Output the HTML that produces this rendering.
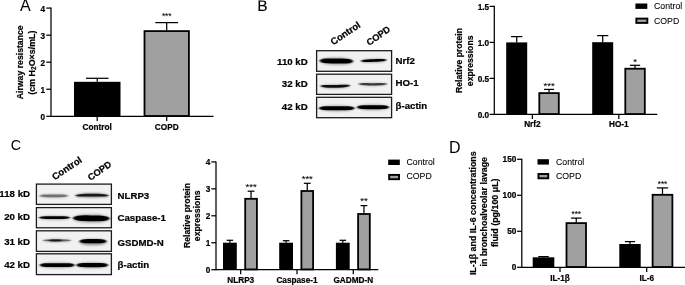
<!DOCTYPE html>
<html lang="en"><head><meta charset="utf-8"><title>Figure</title>
<style>html,body{margin:0;padding:0;background:#fff;}svg{display:block;}text{font-family:'Liberation Sans', sans-serif;fill:#000;}</style>
</head><body>
<svg width="685" height="285" viewBox="0 0 685 285">
<defs><filter id="bl" x="-20%" y="-100%" width="140%" height="300%"><feGaussianBlur stdDeviation="1.1 0.5"/></filter><filter id="bh" x="-20%" y="-150%" width="140%" height="400%"><feGaussianBlur stdDeviation="1.3 0.9"/></filter></defs>
<rect width="685" height="285" fill="#fff"/>
<text x="20.1" y="10.7" font-size="16" font-weight="normal" text-anchor="start">A</text>
<text font-size="15.4" text-anchor="start" transform="translate(257.2 11.1) rotate(0.6)" stroke="#000" stroke-width="0.1">B</text>
<text x="10.7" y="149.5" font-size="14.3" font-weight="normal" text-anchor="start">C</text>
<text x="448.9" y="152.8" font-size="16" font-weight="normal" text-anchor="start">D</text>
<line x1="51.0" y1="7.475" x2="51.0" y2="116.925" stroke="#000" stroke-width="1.25"/>
<line x1="46.3" y1="116.3" x2="51.0" y2="116.3" stroke="#000" stroke-width="1.25"/>
<text font-size="8.5" font-weight="bold" text-anchor="end" transform="translate(45.0 120.30) scale(0.97 0.985)" stroke="#000" stroke-width="0.22">0</text>
<line x1="46.3" y1="89.25" x2="51.0" y2="89.25" stroke="#000" stroke-width="1.25"/>
<text font-size="8.5" font-weight="bold" text-anchor="end" transform="translate(45.0 93.25) scale(0.97 0.985)" stroke="#000" stroke-width="0.22">1</text>
<line x1="46.3" y1="62.199999999999996" x2="51.0" y2="62.199999999999996" stroke="#000" stroke-width="1.25"/>
<text font-size="8.5" font-weight="bold" text-anchor="end" transform="translate(45.0 66.20) scale(0.97 0.985)" stroke="#000" stroke-width="0.22">2</text>
<line x1="46.3" y1="35.14999999999999" x2="51.0" y2="35.14999999999999" stroke="#000" stroke-width="1.25"/>
<text font-size="8.5" font-weight="bold" text-anchor="end" transform="translate(45.0 39.15) scale(0.97 0.985)" stroke="#000" stroke-width="0.22">3</text>
<line x1="46.3" y1="8.099999999999994" x2="51.0" y2="8.099999999999994" stroke="#000" stroke-width="1.25"/>
<text font-size="8.5" font-weight="bold" text-anchor="end" transform="translate(45.0 12.10) scale(0.97 0.985)" stroke="#000" stroke-width="0.22">4</text>
<line x1="97.25" y1="78.3" x2="97.25" y2="81.8" stroke="#000" stroke-width="1.25"/>
<line x1="86.0" y1="78.3" x2="108.5" y2="78.3" stroke="#000" stroke-width="1.25"/>
<rect x="74" y="81.8" width="46.5" height="34.5" fill="#000"/>
<line x1="166.7" y1="22.6" x2="166.7" y2="30.3" stroke="#000" stroke-width="1.25"/>
<line x1="155.29999999999998" y1="22.6" x2="178.1" y2="22.6" stroke="#000" stroke-width="1.25"/>
<rect x="144.5" y="31.1" width="44.4" height="84.90" fill="#a0a0a0" stroke="#000" stroke-width="1.8"/>
<text font-size="8.5" font-weight="normal" text-anchor="middle" transform="translate(166.7 19.40) scale(0.97 0.985)" stroke="#000" stroke-width="0.08">***</text>
<line x1="51.0" y1="116.3" x2="213.5" y2="116.3" stroke="#000" stroke-width="1.25"/>
<line x1="97.2" y1="116.3" x2="97.2" y2="120.89999999999999" stroke="#000" stroke-width="1.25"/>
<text font-size="8.5" font-weight="bold" text-anchor="middle" transform="translate(97.2 130.20) scale(0.97 0.985)" stroke="#000" stroke-width="0.22">Control</text>
<line x1="166.7" y1="116.3" x2="166.7" y2="120.89999999999999" stroke="#000" stroke-width="1.25"/>
<text font-size="8.5" font-weight="bold" text-anchor="middle" transform="translate(166.7 130.20) scale(0.97 0.985)" stroke="#000" stroke-width="0.22">COPD</text>
<text x="22.81" y="62.3" font-size="8.7" font-weight="bold" text-anchor="middle" stroke="#000" stroke-width="0.2" transform="rotate(-90 22.81 62.3)">Airway resistance</text>
<text x="34.870000000000005" y="62.6" font-size="8.9" font-weight="bold" text-anchor="middle" stroke="#000" stroke-width="0.2" transform="rotate(-90 34.870000000000005 62.6)">(cm H<tspan font-size="6.5" dy="1.6">2</tspan><tspan dy="-1.6">O×s/mL)</tspan></text>
<text x="333.3" y="45.4" font-size="9.5" font-weight="bold" text-anchor="start" transform="rotate(-34 333.3 45.4)" stroke="#000" stroke-width="0.22">Control</text>
<text x="369.3" y="46" font-size="9.2" font-weight="bold" text-anchor="start" transform="rotate(-35 369.3 46)" stroke="#000" stroke-width="0.22">COPD</text>
<clipPath id="c316_50"><rect x="316.6" y="50.7" width="75.0" height="20.599999999999994"/></clipPath>
<rect x="316.6" y="50.7" width="75.0" height="20.599999999999994" fill="#f1f1f1"/>
<g clip-path="url(#c316_50)">
<path d="M319.30,60.95 L320.01,60.01 L320.73,59.56 L321.44,59.22 L322.15,58.94 L322.86,58.70 L323.57,58.50 L324.29,58.32 L325.00,58.17 L325.71,58.04 L326.43,57.92 L327.14,57.82 L327.85,57.74 L328.56,57.67 L329.28,57.60 L329.99,57.55 L330.70,57.51 L331.41,57.48 L332.12,57.46 L332.84,57.44 L333.55,57.43 L334.26,57.43 L334.98,57.43 L335.69,57.44 L336.40,57.45 L337.11,57.46 L337.82,57.48 L338.54,57.49 L339.25,57.52 L339.96,57.55 L340.68,57.58 L341.39,57.63 L342.10,57.68 L342.81,57.74 L343.52,57.81 L344.24,57.89 L344.95,57.99 L345.66,58.09 L346.38,58.22 L347.09,58.35 L347.80,58.51 L348.51,58.68 L349.23,58.88 L349.94,59.10 L350.65,59.36 L351.36,59.66 L352.07,60.02 L352.79,60.49 L353.50,61.45 L353.50,61.45 L352.79,62.39 L352.07,62.84 L351.36,63.18 L350.65,63.46 L349.94,63.70 L349.23,63.90 L348.51,64.08 L347.80,64.23 L347.09,64.36 L346.38,64.48 L345.66,64.58 L344.95,64.66 L344.24,64.73 L343.52,64.80 L342.81,64.85 L342.10,64.89 L341.39,64.92 L340.68,64.94 L339.96,64.96 L339.25,64.97 L338.54,64.97 L337.82,64.97 L337.11,64.96 L336.40,64.95 L335.69,64.94 L334.98,64.92 L334.26,64.91 L333.55,64.88 L332.84,64.85 L332.12,64.82 L331.41,64.77 L330.70,64.72 L329.99,64.66 L329.28,64.59 L328.56,64.51 L327.85,64.41 L327.14,64.31 L326.43,64.18 L325.71,64.05 L325.00,63.89 L324.29,63.72 L323.57,63.52 L322.86,63.30 L322.15,63.04 L321.44,62.74 L320.73,62.38 L320.01,61.91 L319.30,60.95Z" fill="#000" opacity="0.3" filter="url(#bh)"/>
<path d="M319.80,60.75 L320.49,59.83 L321.18,59.43 L321.88,59.16 L322.57,58.96 L323.26,58.80 L323.95,58.69 L324.64,58.60 L325.33,58.54 L326.03,58.49 L326.72,58.46 L327.41,58.44 L328.10,58.42 L328.79,58.42 L329.48,58.41 L330.18,58.42 L330.87,58.42 L331.56,58.43 L332.25,58.44 L332.94,58.45 L333.63,58.46 L334.32,58.47 L335.02,58.48 L335.71,58.49 L336.40,58.50 L337.09,58.51 L337.78,58.52 L338.48,58.53 L339.17,58.54 L339.86,58.55 L340.55,58.56 L341.24,58.58 L341.93,58.59 L342.62,58.60 L343.32,58.62 L344.01,58.65 L344.70,58.67 L345.39,58.71 L346.08,58.75 L346.77,58.80 L347.47,58.87 L348.16,58.95 L348.85,59.06 L349.54,59.20 L350.23,59.37 L350.93,59.60 L351.62,59.89 L352.31,60.31 L353.00,61.25 L353.00,61.25 L352.31,62.17 L351.62,62.57 L350.93,62.84 L350.23,63.04 L349.54,63.20 L348.85,63.31 L348.16,63.40 L347.47,63.46 L346.77,63.51 L346.08,63.54 L345.39,63.56 L344.70,63.58 L344.01,63.58 L343.32,63.59 L342.62,63.58 L341.93,63.58 L341.24,63.57 L340.55,63.56 L339.86,63.55 L339.17,63.54 L338.48,63.53 L337.78,63.52 L337.09,63.51 L336.40,63.50 L335.71,63.49 L335.02,63.48 L334.32,63.47 L333.63,63.46 L332.94,63.45 L332.25,63.44 L331.56,63.42 L330.87,63.41 L330.18,63.40 L329.48,63.38 L328.79,63.35 L328.10,63.33 L327.41,63.29 L326.72,63.25 L326.03,63.20 L325.33,63.13 L324.64,63.05 L323.95,62.94 L323.26,62.80 L322.57,62.63 L321.88,62.40 L321.18,62.11 L320.49,61.69 L319.80,60.75Z" fill="#000" opacity="1" filter="url(#bl)"/>
<path d="M360.50,61.20 L361.05,60.67 L361.60,60.40 L362.16,60.19 L362.71,60.01 L363.26,59.85 L363.81,59.72 L364.36,59.60 L364.92,59.49 L365.47,59.39 L366.02,59.30 L366.57,59.22 L367.12,59.15 L367.68,59.08 L368.23,59.02 L368.78,58.97 L369.33,58.92 L369.89,58.88 L370.44,58.84 L370.99,58.80 L371.54,58.77 L372.09,58.74 L372.65,58.72 L373.20,58.70 L373.75,58.68 L374.30,58.65 L374.85,58.64 L375.41,58.62 L375.96,58.61 L376.51,58.59 L377.06,58.59 L377.61,58.59 L378.17,58.59 L378.72,58.59 L379.27,58.61 L379.82,58.62 L380.38,58.65 L380.93,58.68 L381.48,58.72 L382.03,58.77 L382.58,58.82 L383.14,58.89 L383.69,58.97 L384.24,59.06 L384.79,59.18 L385.34,59.31 L385.90,59.48 L386.45,59.71 L387.00,60.20 L387.00,60.20 L386.45,60.73 L385.90,61.00 L385.34,61.21 L384.79,61.39 L384.24,61.55 L383.69,61.68 L383.14,61.80 L382.58,61.91 L382.03,62.01 L381.48,62.10 L380.93,62.18 L380.38,62.25 L379.82,62.32 L379.27,62.38 L378.72,62.43 L378.17,62.48 L377.61,62.52 L377.06,62.56 L376.51,62.60 L375.96,62.63 L375.41,62.66 L374.85,62.68 L374.30,62.70 L373.75,62.73 L373.20,62.75 L372.65,62.76 L372.09,62.78 L371.54,62.79 L370.99,62.81 L370.44,62.81 L369.89,62.81 L369.33,62.81 L368.78,62.81 L368.23,62.79 L367.68,62.78 L367.12,62.75 L366.57,62.72 L366.02,62.68 L365.47,62.63 L364.92,62.58 L364.36,62.51 L363.81,62.43 L363.26,62.34 L362.71,62.22 L362.16,62.09 L361.60,61.92 L361.05,61.69 L360.50,61.20Z" fill="#000" opacity="0.3" filter="url(#bh)"/>
<path d="M361.00,61.00 L361.53,60.54 L362.06,60.31 L362.59,60.14 L363.12,60.01 L363.66,59.90 L364.19,59.80 L364.72,59.72 L365.25,59.65 L365.78,59.59 L366.31,59.54 L366.84,59.49 L367.38,59.45 L367.91,59.42 L368.44,59.38 L368.97,59.35 L369.50,59.33 L370.03,59.30 L370.56,59.28 L371.09,59.26 L371.62,59.23 L372.16,59.21 L372.69,59.19 L373.22,59.17 L373.75,59.15 L374.28,59.13 L374.81,59.11 L375.34,59.09 L375.88,59.07 L376.41,59.05 L376.94,59.03 L377.47,59.01 L378.00,58.99 L378.53,58.98 L379.06,58.97 L379.59,58.96 L380.12,58.95 L380.66,58.95 L381.19,58.95 L381.72,58.97 L382.25,58.98 L382.78,59.01 L383.31,59.05 L383.84,59.10 L384.38,59.17 L384.91,59.27 L385.44,59.39 L385.97,59.58 L386.50,60.00 L386.50,60.00 L385.97,60.46 L385.44,60.69 L384.91,60.86 L384.38,60.99 L383.84,61.10 L383.31,61.20 L382.78,61.28 L382.25,61.35 L381.72,61.41 L381.19,61.46 L380.66,61.51 L380.12,61.55 L379.59,61.58 L379.06,61.62 L378.53,61.65 L378.00,61.67 L377.47,61.70 L376.94,61.72 L376.41,61.74 L375.88,61.77 L375.34,61.79 L374.81,61.81 L374.28,61.83 L373.75,61.85 L373.22,61.87 L372.69,61.89 L372.16,61.91 L371.62,61.93 L371.09,61.95 L370.56,61.97 L370.03,61.99 L369.50,62.01 L368.97,62.02 L368.44,62.03 L367.91,62.04 L367.38,62.05 L366.84,62.05 L366.31,62.05 L365.78,62.03 L365.25,62.02 L364.72,61.99 L364.19,61.95 L363.66,61.90 L363.12,61.83 L362.59,61.73 L362.06,61.61 L361.53,61.42 L361.00,61.00Z" fill="#000" opacity="1" filter="url(#bl)"/>
</g>
<rect x="316.6" y="50.7" width="75.0" height="20.599999999999994" fill="none" stroke="#1c1c1c" stroke-width="1.3"/>
<clipPath id="c316_74"><rect x="316.6" y="74.2" width="75.0" height="20.200000000000003"/></clipPath>
<rect x="316.6" y="74.2" width="75.0" height="20.200000000000003" fill="#f1f1f1"/>
<g clip-path="url(#c316_74)">
<path d="M320.00,86.15 L320.64,85.67 L321.27,85.45 L321.91,85.30 L322.54,85.17 L323.18,85.07 L323.81,84.99 L324.45,84.91 L325.08,84.85 L325.72,84.80 L326.35,84.75 L326.99,84.72 L327.62,84.68 L328.26,84.65 L328.90,84.63 L329.53,84.61 L330.17,84.59 L330.80,84.57 L331.44,84.56 L332.07,84.55 L332.71,84.54 L333.34,84.53 L333.98,84.52 L334.61,84.51 L335.25,84.50 L335.89,84.49 L336.52,84.48 L337.16,84.46 L337.79,84.45 L338.43,84.44 L339.06,84.43 L339.70,84.43 L340.33,84.42 L340.97,84.42 L341.60,84.42 L342.24,84.42 L342.88,84.43 L343.51,84.44 L344.15,84.46 L344.78,84.49 L345.42,84.52 L346.05,84.56 L346.69,84.61 L347.32,84.68 L347.96,84.76 L348.59,84.86 L349.23,84.99 L349.86,85.19 L350.50,85.65 L350.50,85.65 L349.86,86.25 L349.23,86.57 L348.59,86.83 L347.96,87.05 L347.32,87.25 L346.69,87.43 L346.05,87.58 L345.42,87.72 L344.78,87.85 L344.15,87.97 L343.51,88.07 L342.88,88.17 L342.24,88.25 L341.60,88.33 L340.97,88.40 L340.33,88.46 L339.70,88.51 L339.06,88.55 L338.43,88.59 L337.79,88.62 L337.16,88.65 L336.52,88.67 L335.89,88.69 L335.25,88.70 L334.61,88.71 L333.98,88.71 L333.34,88.71 L332.71,88.71 L332.07,88.70 L331.44,88.68 L330.80,88.65 L330.17,88.62 L329.53,88.58 L328.90,88.54 L328.26,88.48 L327.62,88.42 L326.99,88.34 L326.35,88.26 L325.72,88.17 L325.08,88.06 L324.45,87.94 L323.81,87.80 L323.18,87.65 L322.54,87.47 L321.91,87.27 L321.27,87.03 L320.64,86.73 L320.00,86.15Z" fill="#0c0c0c" opacity="0.3" filter="url(#bh)"/>
<path d="M320.50,85.95 L321.11,85.54 L321.73,85.37 L322.34,85.26 L322.96,85.18 L323.57,85.12 L324.19,85.08 L324.80,85.05 L325.42,85.03 L326.03,85.02 L326.65,85.01 L327.26,85.00 L327.88,85.00 L328.49,85.00 L329.10,85.01 L329.72,85.01 L330.33,85.02 L330.95,85.02 L331.56,85.02 L332.18,85.02 L332.79,85.02 L333.41,85.02 L334.02,85.02 L334.64,85.01 L335.25,85.00 L335.86,84.99 L336.48,84.97 L337.09,84.96 L337.71,84.94 L338.32,84.92 L338.94,84.90 L339.55,84.87 L340.17,84.85 L340.78,84.82 L341.40,84.80 L342.01,84.78 L342.62,84.75 L343.24,84.73 L343.85,84.72 L344.47,84.70 L345.08,84.70 L345.70,84.70 L346.31,84.70 L346.93,84.73 L347.54,84.76 L348.16,84.82 L348.77,84.91 L349.39,85.06 L350.00,85.45 L350.00,85.45 L349.39,85.98 L348.77,86.25 L348.16,86.47 L347.54,86.65 L346.93,86.80 L346.31,86.93 L345.70,87.05 L345.08,87.15 L344.47,87.24 L343.85,87.32 L343.24,87.39 L342.62,87.45 L342.01,87.50 L341.40,87.55 L340.78,87.59 L340.17,87.63 L339.55,87.66 L338.94,87.69 L338.32,87.72 L337.71,87.74 L337.09,87.76 L336.48,87.77 L335.86,87.79 L335.25,87.80 L334.64,87.81 L334.02,87.82 L333.41,87.82 L332.79,87.82 L332.18,87.82 L331.56,87.82 L330.95,87.81 L330.33,87.80 L329.72,87.78 L329.10,87.76 L328.49,87.73 L327.88,87.70 L327.26,87.66 L326.65,87.61 L326.03,87.55 L325.42,87.48 L324.80,87.40 L324.19,87.31 L323.57,87.20 L322.96,87.07 L322.34,86.91 L321.73,86.71 L321.11,86.46 L320.50,85.95Z" fill="#0c0c0c" opacity="1" filter="url(#bl)"/>
<path d="M358.00,84.10 L358.61,83.70 L359.23,83.52 L359.84,83.38 L360.46,83.28 L361.07,83.19 L361.69,83.12 L362.30,83.06 L362.92,83.01 L363.53,82.96 L364.15,82.92 L364.76,82.89 L365.38,82.87 L365.99,82.84 L366.60,82.82 L367.22,82.81 L367.83,82.80 L368.45,82.79 L369.06,82.78 L369.68,82.78 L370.29,82.78 L370.91,82.77 L371.52,82.77 L372.14,82.77 L372.75,82.78 L373.36,82.77 L373.98,82.77 L374.59,82.77 L375.21,82.78 L375.82,82.78 L376.44,82.78 L377.05,82.79 L377.67,82.80 L378.28,82.81 L378.90,82.82 L379.51,82.84 L380.12,82.87 L380.74,82.89 L381.35,82.92 L381.97,82.96 L382.58,83.01 L383.20,83.06 L383.81,83.12 L384.43,83.19 L385.04,83.28 L385.66,83.38 L386.27,83.52 L386.89,83.70 L387.50,84.10 L387.50,84.10 L386.89,84.57 L386.27,84.81 L385.66,85.00 L385.04,85.17 L384.43,85.31 L383.81,85.43 L383.20,85.54 L382.58,85.64 L381.97,85.73 L381.35,85.80 L380.74,85.87 L380.12,85.93 L379.51,85.99 L378.90,86.04 L378.28,86.08 L377.67,86.11 L377.05,86.14 L376.44,86.17 L375.82,86.19 L375.21,86.20 L374.59,86.21 L373.98,86.22 L373.36,86.22 L372.75,86.23 L372.14,86.22 L371.52,86.22 L370.91,86.21 L370.29,86.20 L369.68,86.19 L369.06,86.17 L368.45,86.14 L367.83,86.11 L367.22,86.08 L366.60,86.04 L365.99,85.99 L365.38,85.93 L364.76,85.87 L364.15,85.80 L363.53,85.73 L362.92,85.64 L362.30,85.54 L361.69,85.43 L361.07,85.31 L360.46,85.17 L359.84,85.00 L359.23,84.81 L358.61,84.57 L358.00,84.10Z" fill="#151515" opacity="0.24" filter="url(#bh)"/>
<path d="M358.50,83.90 L359.09,83.55 L359.69,83.41 L360.28,83.32 L360.88,83.25 L361.47,83.20 L362.06,83.16 L362.66,83.13 L363.25,83.11 L363.84,83.10 L364.44,83.10 L365.03,83.09 L365.62,83.09 L366.22,83.10 L366.81,83.10 L367.41,83.11 L368.00,83.11 L368.59,83.12 L369.19,83.13 L369.78,83.13 L370.38,83.14 L370.97,83.14 L371.56,83.15 L372.16,83.15 L372.75,83.15 L373.34,83.15 L373.94,83.15 L374.53,83.14 L375.12,83.14 L375.72,83.13 L376.31,83.13 L376.91,83.12 L377.50,83.11 L378.09,83.11 L378.69,83.10 L379.28,83.10 L379.88,83.09 L380.47,83.09 L381.06,83.10 L381.66,83.10 L382.25,83.11 L382.84,83.13 L383.44,83.16 L384.03,83.20 L384.62,83.25 L385.22,83.32 L385.81,83.41 L386.41,83.55 L387.00,83.90 L387.00,83.90 L386.41,84.31 L385.81,84.52 L385.22,84.67 L384.62,84.80 L384.03,84.90 L383.44,84.99 L382.84,85.07 L382.25,85.13 L381.66,85.18 L381.06,85.23 L380.47,85.27 L379.88,85.31 L379.28,85.34 L378.69,85.36 L378.09,85.38 L377.50,85.40 L376.91,85.41 L376.31,85.42 L375.72,85.43 L375.12,85.44 L374.53,85.44 L373.94,85.45 L373.34,85.45 L372.75,85.45 L372.16,85.45 L371.56,85.45 L370.97,85.44 L370.38,85.44 L369.78,85.43 L369.19,85.42 L368.59,85.41 L368.00,85.40 L367.41,85.38 L366.81,85.36 L366.22,85.34 L365.62,85.31 L365.03,85.27 L364.44,85.23 L363.84,85.18 L363.25,85.13 L362.66,85.07 L362.06,84.99 L361.47,84.90 L360.88,84.80 L360.28,84.67 L359.69,84.52 L359.09,84.31 L358.50,83.90Z" fill="#151515" opacity="0.8" filter="url(#bl)"/>
</g>
<rect x="316.6" y="74.2" width="75.0" height="20.200000000000003" fill="none" stroke="#1c1c1c" stroke-width="1.3"/>
<clipPath id="c316_97"><rect x="316.6" y="97.3" width="75.0" height="20.400000000000006"/></clipPath>
<rect x="316.6" y="97.3" width="75.0" height="20.400000000000006" fill="#f1f1f1"/>
<g clip-path="url(#c316_97)">
<path d="M318.50,108.40 L319.26,107.64 L320.02,107.27 L320.78,106.99 L321.54,106.76 L322.30,106.56 L323.06,106.39 L323.82,106.24 L324.58,106.11 L325.34,106.00 L326.10,105.90 L326.86,105.81 L327.62,105.73 L328.39,105.66 L329.15,105.61 L329.91,105.56 L330.67,105.52 L331.43,105.48 L332.19,105.46 L332.95,105.44 L333.71,105.42 L334.47,105.41 L335.23,105.40 L335.99,105.40 L336.75,105.40 L337.51,105.40 L338.27,105.40 L339.03,105.41 L339.79,105.42 L340.55,105.44 L341.31,105.46 L342.07,105.48 L342.83,105.52 L343.59,105.56 L344.35,105.61 L345.11,105.66 L345.88,105.73 L346.64,105.81 L347.40,105.90 L348.16,106.00 L348.92,106.11 L349.68,106.24 L350.44,106.39 L351.20,106.56 L351.96,106.76 L352.72,106.99 L353.48,107.27 L354.24,107.64 L355.00,108.40 L355.00,108.40 L354.24,109.16 L353.48,109.53 L352.72,109.81 L351.96,110.04 L351.20,110.24 L350.44,110.41 L349.68,110.56 L348.92,110.69 L348.16,110.80 L347.40,110.90 L346.64,110.99 L345.88,111.07 L345.11,111.14 L344.35,111.19 L343.59,111.24 L342.83,111.28 L342.07,111.32 L341.31,111.34 L340.55,111.36 L339.79,111.38 L339.03,111.39 L338.27,111.40 L337.51,111.40 L336.75,111.40 L335.99,111.40 L335.23,111.40 L334.47,111.39 L333.71,111.38 L332.95,111.36 L332.19,111.34 L331.43,111.32 L330.67,111.28 L329.91,111.24 L329.15,111.19 L328.39,111.14 L327.62,111.07 L326.86,110.99 L326.10,110.90 L325.34,110.80 L324.58,110.69 L323.82,110.56 L323.06,110.41 L322.30,110.24 L321.54,110.04 L320.78,109.81 L320.02,109.53 L319.26,109.16 L318.50,108.40Z" fill="#000" opacity="0.3" filter="url(#bh)"/>
<path d="M319.00,108.20 L319.74,107.38 L320.48,107.03 L321.22,106.80 L321.96,106.63 L322.70,106.51 L323.44,106.42 L324.18,106.36 L324.92,106.31 L325.66,106.27 L326.40,106.25 L327.14,106.23 L327.88,106.22 L328.61,106.21 L329.35,106.21 L330.09,106.20 L330.83,106.20 L331.57,106.20 L332.31,106.20 L333.05,106.20 L333.79,106.20 L334.53,106.20 L335.27,106.20 L336.01,106.20 L336.75,106.20 L337.49,106.20 L338.23,106.20 L338.97,106.20 L339.71,106.20 L340.45,106.20 L341.19,106.20 L341.93,106.20 L342.67,106.20 L343.41,106.20 L344.15,106.21 L344.89,106.21 L345.62,106.22 L346.36,106.23 L347.10,106.25 L347.84,106.27 L348.58,106.31 L349.32,106.36 L350.06,106.42 L350.80,106.51 L351.54,106.63 L352.28,106.80 L353.02,107.03 L353.76,107.38 L354.50,108.20 L354.50,108.20 L353.76,109.02 L353.02,109.37 L352.28,109.60 L351.54,109.77 L350.80,109.89 L350.06,109.98 L349.32,110.04 L348.58,110.09 L347.84,110.13 L347.10,110.15 L346.36,110.17 L345.62,110.18 L344.89,110.19 L344.15,110.19 L343.41,110.20 L342.67,110.20 L341.93,110.20 L341.19,110.20 L340.45,110.20 L339.71,110.20 L338.97,110.20 L338.23,110.20 L337.49,110.20 L336.75,110.20 L336.01,110.20 L335.27,110.20 L334.53,110.20 L333.79,110.20 L333.05,110.20 L332.31,110.20 L331.57,110.20 L330.83,110.20 L330.09,110.20 L329.35,110.19 L328.61,110.19 L327.88,110.18 L327.14,110.17 L326.40,110.15 L325.66,110.13 L324.92,110.09 L324.18,110.04 L323.44,109.98 L322.70,109.89 L321.96,109.77 L321.22,109.60 L320.48,109.37 L319.74,109.02 L319.00,108.20Z" fill="#000" opacity="1" filter="url(#bl)"/>
<path d="M356.50,107.40 L357.19,106.66 L357.88,106.30 L358.56,106.03 L359.25,105.80 L359.94,105.61 L360.62,105.44 L361.31,105.30 L362.00,105.17 L362.69,105.06 L363.38,104.96 L364.06,104.87 L364.75,104.80 L365.44,104.73 L366.12,104.68 L366.81,104.63 L367.50,104.59 L368.19,104.56 L368.88,104.53 L369.56,104.51 L370.25,104.49 L370.94,104.48 L371.62,104.48 L372.31,104.48 L373.00,104.48 L373.69,104.48 L374.38,104.48 L375.06,104.48 L375.75,104.49 L376.44,104.51 L377.12,104.53 L377.81,104.56 L378.50,104.59 L379.19,104.63 L379.88,104.68 L380.56,104.73 L381.25,104.80 L381.94,104.87 L382.62,104.96 L383.31,105.06 L384.00,105.17 L384.69,105.30 L385.38,105.44 L386.06,105.61 L386.75,105.80 L387.44,106.03 L388.12,106.30 L388.81,106.66 L389.50,107.40 L389.50,107.40 L388.81,108.14 L388.12,108.50 L387.44,108.77 L386.75,109.00 L386.06,109.19 L385.38,109.36 L384.69,109.50 L384.00,109.63 L383.31,109.74 L382.62,109.84 L381.94,109.93 L381.25,110.00 L380.56,110.07 L379.88,110.12 L379.19,110.17 L378.50,110.21 L377.81,110.24 L377.12,110.27 L376.44,110.29 L375.75,110.31 L375.06,110.32 L374.38,110.32 L373.69,110.32 L373.00,110.33 L372.31,110.32 L371.62,110.32 L370.94,110.32 L370.25,110.31 L369.56,110.29 L368.88,110.27 L368.19,110.24 L367.50,110.21 L366.81,110.17 L366.12,110.12 L365.44,110.07 L364.75,110.00 L364.06,109.93 L363.38,109.84 L362.69,109.74 L362.00,109.63 L361.31,109.50 L360.62,109.36 L359.94,109.19 L359.25,109.00 L358.56,108.77 L357.88,108.50 L357.19,108.14 L356.50,107.40Z" fill="#000" opacity="0.3" filter="url(#bh)"/>
<path d="M357.00,107.20 L357.67,106.40 L358.33,106.06 L359.00,105.84 L359.67,105.67 L360.33,105.55 L361.00,105.47 L361.67,105.40 L362.33,105.35 L363.00,105.32 L363.67,105.30 L364.33,105.28 L365.00,105.27 L365.67,105.26 L366.33,105.26 L367.00,105.25 L367.67,105.25 L368.33,105.25 L369.00,105.25 L369.67,105.25 L370.33,105.25 L371.00,105.25 L371.67,105.25 L372.33,105.25 L373.00,105.25 L373.67,105.25 L374.33,105.25 L375.00,105.25 L375.67,105.25 L376.33,105.25 L377.00,105.25 L377.67,105.25 L378.33,105.25 L379.00,105.25 L379.67,105.26 L380.33,105.26 L381.00,105.27 L381.67,105.28 L382.33,105.30 L383.00,105.32 L383.67,105.35 L384.33,105.40 L385.00,105.47 L385.67,105.55 L386.33,105.67 L387.00,105.84 L387.67,106.06 L388.33,106.40 L389.00,107.20 L389.00,107.20 L388.33,108.00 L387.67,108.34 L387.00,108.56 L386.33,108.73 L385.67,108.85 L385.00,108.93 L384.33,109.00 L383.67,109.05 L383.00,109.08 L382.33,109.10 L381.67,109.12 L381.00,109.13 L380.33,109.14 L379.67,109.14 L379.00,109.15 L378.33,109.15 L377.67,109.15 L377.00,109.15 L376.33,109.15 L375.67,109.15 L375.00,109.15 L374.33,109.15 L373.67,109.15 L373.00,109.15 L372.33,109.15 L371.67,109.15 L371.00,109.15 L370.33,109.15 L369.67,109.15 L369.00,109.15 L368.33,109.15 L367.67,109.15 L367.00,109.15 L366.33,109.14 L365.67,109.14 L365.00,109.13 L364.33,109.12 L363.67,109.10 L363.00,109.08 L362.33,109.05 L361.67,109.00 L361.00,108.93 L360.33,108.85 L359.67,108.73 L359.00,108.56 L358.33,108.34 L357.67,108.00 L357.00,107.20Z" fill="#000" opacity="1" filter="url(#bl)"/>
</g>
<rect x="316.6" y="97.3" width="75.0" height="20.400000000000006" fill="none" stroke="#1c1c1c" stroke-width="1.3"/>
<text font-size="9.988" font-weight="bold" text-anchor="end" transform="translate(307.7 64.90) scale(0.97 0.985)" stroke="#000" stroke-width="0.22">110 kD</text>
<text font-size="9.988" font-weight="bold" text-anchor="end" transform="translate(307.7 86.90) scale(0.97 0.985)" stroke="#000" stroke-width="0.22">32 kD</text>
<text font-size="9.988" font-weight="bold" text-anchor="end" transform="translate(307.7 110.40) scale(0.97 0.985)" stroke="#000" stroke-width="0.22">42 kD</text>
<text font-size="9.988" font-weight="bold" text-anchor="start" transform="translate(395.5 63.60) scale(0.97 0.985)" stroke="#000" stroke-width="0.22">Nrf2</text>
<text font-size="9.988" font-weight="bold" text-anchor="start" transform="translate(395.5 85.50) scale(0.97 0.985)" stroke="#000" stroke-width="0.22">HO-1</text>
<text font-size="9.988" font-weight="bold" text-anchor="start" transform="translate(395.5 109.40) scale(0.97 0.985)" stroke="#000" stroke-width="0.22">β-actin</text>
<line x1="494.3" y1="5.775" x2="494.3" y2="115.025" stroke="#000" stroke-width="1.25"/>
<line x1="489.6" y1="114.4" x2="494.3" y2="114.4" stroke="#000" stroke-width="1.25"/>
<text font-size="8.5" font-weight="bold" text-anchor="end" transform="translate(489.1 117.90) scale(0.97 0.985)" stroke="#000" stroke-width="0.22">0.0</text>
<line x1="489.6" y1="78.4" x2="494.3" y2="78.4" stroke="#000" stroke-width="1.25"/>
<text font-size="8.5" font-weight="bold" text-anchor="end" transform="translate(489.1 81.90) scale(0.97 0.985)" stroke="#000" stroke-width="0.22">0.5</text>
<line x1="489.6" y1="42.400000000000006" x2="494.3" y2="42.400000000000006" stroke="#000" stroke-width="1.25"/>
<text font-size="8.5" font-weight="bold" text-anchor="end" transform="translate(489.1 45.90) scale(0.97 0.985)" stroke="#000" stroke-width="0.22">1.0</text>
<line x1="489.6" y1="6.400000000000006" x2="494.3" y2="6.400000000000006" stroke="#000" stroke-width="1.25"/>
<text font-size="8.5" font-weight="bold" text-anchor="end" transform="translate(489.1 9.90) scale(0.97 0.985)" stroke="#000" stroke-width="0.22">1.5</text>
<line x1="516.7" y1="36.6" x2="516.7" y2="42.4" stroke="#000" stroke-width="1.25"/>
<line x1="511.05000000000007" y1="36.6" x2="522.35" y2="36.6" stroke="#000" stroke-width="1.25"/>
<rect x="506.2" y="42.4" width="21.000000000000057" height="72.0" fill="#000"/>
<line x1="549.05" y1="89.4" x2="549.05" y2="92.3" stroke="#000" stroke-width="1.25"/>
<line x1="544.05" y1="89.4" x2="554.05" y2="89.4" stroke="#000" stroke-width="1.25"/>
<rect x="539.3" y="93.1" width="19.50000000000002" height="21.00" fill="#a0a0a0" stroke="#000" stroke-width="1.8"/>
<text font-size="9.881" font-weight="normal" text-anchor="middle" transform="translate(549.05 88.70) scale(0.97 0.985)" stroke="#000" stroke-width="0.08">***</text>
<line x1="602.7" y1="35.6" x2="602.7" y2="42.2" stroke="#000" stroke-width="1.25"/>
<line x1="597.1" y1="35.6" x2="608.3000000000001" y2="35.6" stroke="#000" stroke-width="1.25"/>
<rect x="592.2" y="42.2" width="21.0" height="72.2" fill="#000"/>
<line x1="635.05" y1="65.3" x2="635.05" y2="67.9" stroke="#000" stroke-width="1.25"/>
<line x1="629.9499999999999" y1="65.3" x2="640.15" y2="65.3" stroke="#000" stroke-width="1.25"/>
<rect x="625.3" y="68.7" width="19.50000000000002" height="45.40" fill="#a0a0a0" stroke="#000" stroke-width="1.8"/>
<text font-size="9.881" font-weight="normal" text-anchor="middle" transform="translate(635.05 65.20) scale(0.97 0.985)" stroke="#000" stroke-width="0.08">*</text>
<line x1="494.3" y1="114.4" x2="657.3" y2="114.4" stroke="#000" stroke-width="1.25"/>
<line x1="532.4" y1="114.4" x2="532.4" y2="119.0" stroke="#000" stroke-width="1.25"/>
<text font-size="8.5" font-weight="bold" text-anchor="middle" transform="translate(532.4 127.20) scale(0.97 0.985)" stroke="#000" stroke-width="0.22">Nrf2</text>
<line x1="618.8" y1="114.4" x2="618.8" y2="119.0" stroke="#000" stroke-width="1.25"/>
<text font-size="8.5" font-weight="bold" text-anchor="middle" transform="translate(618.8 127.20) scale(0.97 0.985)" stroke="#000" stroke-width="0.22">HO-1</text>
<text x="461.81" y="60.5" font-size="8.7" font-weight="bold" text-anchor="middle" stroke="#000" stroke-width="0.2" transform="rotate(-90 461.81 60.5)">Relative protein</text>
<text x="472.71000000000004" y="60.8" font-size="8.7" font-weight="bold" text-anchor="middle" stroke="#000" stroke-width="0.2" transform="rotate(-90 472.71000000000004 60.8)">expressions</text>
<rect x="635.4" y="3.5" width="11.9" height="5.4" fill="#000"/>
<text font-size="9.031" font-weight="normal" text-anchor="start" transform="translate(654 9.40) scale(0.97 0.985)" stroke="#000" stroke-width="0.08">Control</text>
<rect x="636.35" y="18.6" width="11.0" height="4.3" fill="#a0a0a0" stroke="#000" stroke-width="1.9"/>
<text font-size="9.031" font-weight="normal" text-anchor="start" transform="translate(654 23.70) scale(0.97 0.985)" stroke="#000" stroke-width="0.08">COPD</text>
<text x="54.7" y="180.4" font-size="9.5" font-weight="bold" text-anchor="start" transform="rotate(-34 54.7 180.4)" stroke="#000" stroke-width="0.22">Control</text>
<text x="90.5" y="181" font-size="9.2" font-weight="bold" text-anchor="start" transform="rotate(-35 90.5 181)" stroke="#000" stroke-width="0.22">COPD</text>
<clipPath id="c36_184"><rect x="36.4" y="184.1" width="75.0" height="20.30000000000001"/></clipPath>
<rect x="36.4" y="184.1" width="75.0" height="20.30000000000001" fill="#f1f1f1"/>
<g clip-path="url(#c36_184)">
<path d="M39.00,196.00 L39.61,195.47 L40.23,195.21 L40.84,195.01 L41.46,194.85 L42.07,194.71 L42.69,194.59 L43.30,194.49 L43.92,194.40 L44.53,194.32 L45.15,194.25 L45.76,194.19 L46.38,194.13 L46.99,194.08 L47.60,194.04 L48.22,194.01 L48.83,193.98 L49.45,193.96 L50.06,193.94 L50.68,193.93 L51.29,193.91 L51.91,193.91 L52.52,193.90 L53.14,193.90 L53.75,193.90 L54.36,193.90 L54.98,193.90 L55.59,193.91 L56.21,193.91 L56.82,193.93 L57.44,193.94 L58.05,193.96 L58.67,193.98 L59.28,194.01 L59.90,194.04 L60.51,194.08 L61.12,194.13 L61.74,194.19 L62.35,194.25 L62.97,194.32 L63.58,194.40 L64.20,194.49 L64.81,194.59 L65.43,194.71 L66.04,194.85 L66.66,195.01 L67.27,195.21 L67.89,195.47 L68.50,196.00 L68.50,196.00 L67.89,196.53 L67.27,196.79 L66.66,196.99 L66.04,197.15 L65.43,197.29 L64.81,197.41 L64.20,197.51 L63.58,197.60 L62.97,197.68 L62.35,197.75 L61.74,197.81 L61.12,197.87 L60.51,197.92 L59.90,197.96 L59.28,197.99 L58.67,198.02 L58.05,198.04 L57.44,198.06 L56.82,198.07 L56.21,198.09 L55.59,198.09 L54.98,198.10 L54.36,198.10 L53.75,198.10 L53.14,198.10 L52.52,198.10 L51.91,198.09 L51.29,198.09 L50.68,198.07 L50.06,198.06 L49.45,198.04 L48.83,198.02 L48.22,197.99 L47.60,197.96 L46.99,197.92 L46.38,197.87 L45.76,197.81 L45.15,197.75 L44.53,197.68 L43.92,197.60 L43.30,197.51 L42.69,197.41 L42.07,197.29 L41.46,197.15 L40.84,196.99 L40.23,196.79 L39.61,196.53 L39.00,196.00Z" fill="#333" opacity="0.275" filter="url(#bh)"/>
<path d="M39.50,195.80 L40.09,195.34 L40.69,195.13 L41.28,194.98 L41.88,194.86 L42.47,194.76 L43.06,194.69 L43.66,194.62 L44.25,194.57 L44.84,194.53 L45.44,194.50 L46.03,194.47 L46.62,194.45 L47.22,194.44 L47.81,194.43 L48.41,194.42 L49.00,194.41 L49.59,194.41 L50.19,194.40 L50.78,194.40 L51.38,194.40 L51.97,194.40 L52.56,194.40 L53.16,194.40 L53.75,194.40 L54.34,194.40 L54.94,194.40 L55.53,194.40 L56.12,194.40 L56.72,194.40 L57.31,194.40 L57.91,194.41 L58.50,194.41 L59.09,194.42 L59.69,194.43 L60.28,194.44 L60.88,194.45 L61.47,194.47 L62.06,194.50 L62.66,194.53 L63.25,194.57 L63.84,194.62 L64.44,194.69 L65.03,194.76 L65.62,194.86 L66.22,194.98 L66.81,195.13 L67.41,195.34 L68.00,195.80 L68.00,195.80 L67.41,196.26 L66.81,196.47 L66.22,196.62 L65.62,196.74 L65.03,196.84 L64.44,196.91 L63.84,196.98 L63.25,197.03 L62.66,197.07 L62.06,197.10 L61.47,197.13 L60.88,197.15 L60.28,197.16 L59.69,197.17 L59.09,197.18 L58.50,197.19 L57.91,197.19 L57.31,197.20 L56.72,197.20 L56.12,197.20 L55.53,197.20 L54.94,197.20 L54.34,197.20 L53.75,197.20 L53.16,197.20 L52.56,197.20 L51.97,197.20 L51.38,197.20 L50.78,197.20 L50.19,197.20 L49.59,197.19 L49.00,197.19 L48.41,197.18 L47.81,197.17 L47.22,197.16 L46.62,197.15 L46.03,197.13 L45.44,197.10 L44.84,197.07 L44.25,197.03 L43.66,196.98 L43.06,196.91 L42.47,196.84 L41.88,196.74 L41.28,196.62 L40.69,196.47 L40.09,196.26 L39.50,195.80Z" fill="#333" opacity="0.55" filter="url(#bl)"/>
<path d="M75.00,195.80 L75.71,195.23 L76.42,194.93 L77.12,194.70 L77.83,194.50 L78.54,194.33 L79.25,194.17 L79.96,194.04 L80.67,193.92 L81.38,193.81 L82.08,193.72 L82.79,193.63 L83.50,193.56 L84.21,193.49 L84.92,193.43 L85.62,193.38 L86.33,193.34 L87.04,193.30 L87.75,193.27 L88.46,193.25 L89.17,193.23 L89.88,193.21 L90.58,193.21 L91.29,193.20 L92.00,193.20 L92.71,193.20 L93.42,193.21 L94.12,193.21 L94.83,193.23 L95.54,193.25 L96.25,193.27 L96.96,193.30 L97.67,193.34 L98.38,193.38 L99.08,193.43 L99.79,193.49 L100.50,193.56 L101.21,193.63 L101.92,193.72 L102.62,193.81 L103.33,193.92 L104.04,194.04 L104.75,194.17 L105.46,194.33 L106.17,194.50 L106.88,194.70 L107.58,194.93 L108.29,195.23 L109.00,195.80 L109.00,195.80 L108.29,196.29 L107.58,196.51 L106.88,196.67 L106.17,196.80 L105.46,196.90 L104.75,196.99 L104.04,197.06 L103.33,197.12 L102.62,197.18 L101.92,197.22 L101.21,197.26 L100.50,197.29 L99.79,197.32 L99.08,197.34 L98.38,197.36 L97.67,197.37 L96.96,197.38 L96.25,197.39 L95.54,197.40 L94.83,197.40 L94.12,197.40 L93.42,197.40 L92.71,197.40 L92.00,197.40 L91.29,197.40 L90.58,197.40 L89.88,197.40 L89.17,197.40 L88.46,197.40 L87.75,197.39 L87.04,197.38 L86.33,197.37 L85.62,197.36 L84.92,197.34 L84.21,197.32 L83.50,197.29 L82.79,197.26 L82.08,197.22 L81.38,197.18 L80.67,197.12 L79.96,197.06 L79.25,196.99 L78.54,196.90 L77.83,196.80 L77.12,196.67 L76.42,196.51 L75.71,196.29 L75.00,195.80Z" fill="#0a0a0a" opacity="0.45" filter="url(#bh)"/>
<path d="M75.50,195.60 L76.19,195.10 L76.88,194.85 L77.56,194.66 L78.25,194.50 L78.94,194.38 L79.62,194.27 L80.31,194.17 L81.00,194.10 L81.69,194.03 L82.38,193.97 L83.06,193.92 L83.75,193.88 L84.44,193.84 L85.12,193.81 L85.81,193.79 L86.50,193.77 L87.19,193.75 L87.88,193.73 L88.56,193.72 L89.25,193.71 L89.94,193.71 L90.62,193.70 L91.31,193.70 L92.00,193.70 L92.69,193.70 L93.38,193.70 L94.06,193.71 L94.75,193.71 L95.44,193.72 L96.12,193.73 L96.81,193.75 L97.50,193.77 L98.19,193.79 L98.88,193.81 L99.56,193.84 L100.25,193.88 L100.94,193.92 L101.62,193.97 L102.31,194.03 L103.00,194.10 L103.69,194.17 L104.38,194.27 L105.06,194.38 L105.75,194.50 L106.44,194.66 L107.12,194.85 L107.81,195.10 L108.50,195.60 L108.50,195.60 L107.81,196.02 L107.12,196.19 L106.44,196.31 L105.75,196.39 L105.06,196.45 L104.38,196.50 L103.69,196.53 L103.00,196.55 L102.31,196.56 L101.62,196.57 L100.94,196.57 L100.25,196.57 L99.56,196.57 L98.88,196.56 L98.19,196.55 L97.50,196.55 L96.81,196.54 L96.12,196.53 L95.44,196.52 L94.75,196.51 L94.06,196.51 L93.38,196.50 L92.69,196.50 L92.00,196.50 L91.31,196.50 L90.62,196.50 L89.94,196.51 L89.25,196.51 L88.56,196.52 L87.88,196.53 L87.19,196.54 L86.50,196.55 L85.81,196.55 L85.12,196.56 L84.44,196.57 L83.75,196.57 L83.06,196.57 L82.38,196.57 L81.69,196.56 L81.00,196.55 L80.31,196.53 L79.62,196.50 L78.94,196.45 L78.25,196.39 L77.56,196.31 L76.88,196.19 L76.19,196.02 L75.50,195.60Z" fill="#0a0a0a" opacity="0.9" filter="url(#bl)"/>
</g>
<rect x="36.4" y="184.1" width="75.0" height="20.30000000000001" fill="none" stroke="#1c1c1c" stroke-width="1.3"/>
<clipPath id="c36_207"><rect x="36.4" y="207.6" width="75.0" height="20.200000000000017"/></clipPath>
<rect x="36.4" y="207.6" width="75.0" height="20.200000000000017" fill="#f1f1f1"/>
<g clip-path="url(#c36_207)">
<path d="M38.50,217.80 L39.17,217.25 L39.83,216.98 L40.50,216.78 L41.17,216.61 L41.83,216.47 L42.50,216.34 L43.17,216.24 L43.83,216.14 L44.50,216.06 L45.17,215.98 L45.83,215.92 L46.50,215.86 L47.17,215.82 L47.83,215.77 L48.50,215.74 L49.17,215.71 L49.83,215.69 L50.50,215.67 L51.17,215.65 L51.83,215.64 L52.50,215.63 L53.17,215.63 L53.83,215.63 L54.50,215.62 L55.17,215.63 L55.83,215.63 L56.50,215.63 L57.17,215.64 L57.83,215.65 L58.50,215.67 L59.17,215.69 L59.83,215.71 L60.50,215.74 L61.17,215.77 L61.83,215.82 L62.50,215.86 L63.17,215.92 L63.83,215.98 L64.50,216.06 L65.17,216.14 L65.83,216.24 L66.50,216.34 L67.17,216.47 L67.83,216.61 L68.50,216.78 L69.17,216.98 L69.83,217.25 L70.50,217.80 L70.50,217.80 L69.83,218.35 L69.17,218.62 L68.50,218.82 L67.83,218.99 L67.17,219.13 L66.50,219.26 L65.83,219.36 L65.17,219.46 L64.50,219.54 L63.83,219.62 L63.17,219.68 L62.50,219.74 L61.83,219.78 L61.17,219.83 L60.50,219.86 L59.83,219.89 L59.17,219.91 L58.50,219.93 L57.83,219.95 L57.17,219.96 L56.50,219.97 L55.83,219.97 L55.17,219.97 L54.50,219.97 L53.83,219.97 L53.17,219.97 L52.50,219.97 L51.83,219.96 L51.17,219.95 L50.50,219.93 L49.83,219.91 L49.17,219.89 L48.50,219.86 L47.83,219.83 L47.17,219.78 L46.50,219.74 L45.83,219.68 L45.17,219.62 L44.50,219.54 L43.83,219.46 L43.17,219.36 L42.50,219.26 L41.83,219.13 L41.17,218.99 L40.50,218.82 L39.83,218.62 L39.17,218.35 L38.50,217.80Z" fill="#000" opacity="0.3" filter="url(#bh)"/>
<path d="M39.00,217.60 L39.65,217.12 L40.29,216.90 L40.94,216.75 L41.58,216.62 L42.23,216.53 L42.88,216.45 L43.52,216.38 L44.17,216.33 L44.81,216.29 L45.46,216.25 L46.10,216.23 L46.75,216.21 L47.40,216.19 L48.04,216.18 L48.69,216.17 L49.33,216.16 L49.98,216.16 L50.62,216.15 L51.27,216.15 L51.92,216.15 L52.56,216.15 L53.21,216.15 L53.85,216.15 L54.50,216.15 L55.15,216.15 L55.79,216.15 L56.44,216.15 L57.08,216.15 L57.73,216.15 L58.38,216.15 L59.02,216.16 L59.67,216.16 L60.31,216.17 L60.96,216.18 L61.60,216.19 L62.25,216.21 L62.90,216.23 L63.54,216.25 L64.19,216.29 L64.83,216.33 L65.48,216.38 L66.12,216.45 L66.77,216.53 L67.42,216.62 L68.06,216.75 L68.71,216.90 L69.35,217.12 L70.00,217.60 L70.00,217.60 L69.35,218.08 L68.71,218.30 L68.06,218.45 L67.42,218.58 L66.77,218.67 L66.12,218.75 L65.48,218.82 L64.83,218.87 L64.19,218.91 L63.54,218.95 L62.90,218.97 L62.25,218.99 L61.60,219.01 L60.96,219.02 L60.31,219.03 L59.67,219.04 L59.02,219.04 L58.38,219.05 L57.73,219.05 L57.08,219.05 L56.44,219.05 L55.79,219.05 L55.15,219.05 L54.50,219.05 L53.85,219.05 L53.21,219.05 L52.56,219.05 L51.92,219.05 L51.27,219.05 L50.62,219.05 L49.98,219.04 L49.33,219.04 L48.69,219.03 L48.04,219.02 L47.40,219.01 L46.75,218.99 L46.10,218.97 L45.46,218.95 L44.81,218.91 L44.17,218.87 L43.52,218.82 L42.88,218.75 L42.23,218.67 L41.58,218.58 L40.94,218.45 L40.29,218.30 L39.65,218.08 L39.00,217.60Z" fill="#000" opacity="1" filter="url(#bl)"/>
<path d="M72.50,218.30 L73.28,217.21 L74.06,216.68 L74.84,216.28 L75.62,215.95 L76.41,215.68 L77.19,215.44 L77.97,215.23 L78.75,215.05 L79.53,214.89 L80.31,214.75 L81.09,214.63 L81.88,214.53 L82.66,214.44 L83.44,214.37 L84.22,214.30 L85.00,214.25 L85.78,214.21 L86.56,214.18 L87.34,214.16 L88.12,214.15 L88.91,214.14 L89.69,214.14 L90.47,214.14 L91.25,214.15 L92.03,214.16 L92.81,214.17 L93.59,214.19 L94.38,214.21 L95.16,214.24 L95.94,214.28 L96.72,214.33 L97.50,214.39 L98.28,214.45 L99.06,214.53 L99.84,214.62 L100.62,214.73 L101.41,214.85 L102.19,214.99 L102.97,215.14 L103.75,215.31 L104.53,215.51 L105.31,215.74 L106.09,215.99 L106.88,216.29 L107.66,216.63 L108.44,217.05 L109.22,217.59 L110.00,218.70 L110.00,218.70 L109.22,219.79 L108.44,220.32 L107.66,220.72 L106.88,221.05 L106.09,221.32 L105.31,221.56 L104.53,221.77 L103.75,221.95 L102.97,222.11 L102.19,222.25 L101.41,222.37 L100.62,222.47 L99.84,222.56 L99.06,222.63 L98.28,222.70 L97.50,222.75 L96.72,222.79 L95.94,222.82 L95.16,222.84 L94.38,222.85 L93.59,222.86 L92.81,222.86 L92.03,222.86 L91.25,222.85 L90.47,222.84 L89.69,222.83 L88.91,222.81 L88.12,222.79 L87.34,222.76 L86.56,222.72 L85.78,222.67 L85.00,222.61 L84.22,222.55 L83.44,222.47 L82.66,222.38 L81.88,222.27 L81.09,222.15 L80.31,222.01 L79.53,221.86 L78.75,221.69 L77.97,221.49 L77.19,221.26 L76.41,221.01 L75.62,220.71 L74.84,220.37 L74.06,219.95 L73.28,219.41 L72.50,218.30Z" fill="#000" opacity="0.3" filter="url(#bh)"/>
<path d="M73.00,218.10 L73.76,217.16 L74.52,216.73 L75.28,216.42 L76.04,216.18 L76.80,215.99 L77.56,215.84 L78.32,215.72 L79.08,215.63 L79.84,215.55 L80.60,215.49 L81.36,215.44 L82.12,215.41 L82.89,215.39 L83.65,215.37 L84.41,215.36 L85.17,215.35 L85.93,215.35 L86.69,215.36 L87.45,215.36 L88.21,215.37 L88.97,215.38 L89.73,215.38 L90.49,215.39 L91.25,215.40 L92.01,215.41 L92.77,215.42 L93.53,215.43 L94.29,215.43 L95.05,215.44 L95.81,215.46 L96.57,215.47 L97.33,215.49 L98.09,215.51 L98.85,215.54 L99.61,215.57 L100.38,215.61 L101.14,215.66 L101.90,215.72 L102.66,215.80 L103.42,215.89 L104.18,216.00 L104.94,216.14 L105.70,216.31 L106.46,216.51 L107.22,216.77 L107.98,217.09 L108.74,217.54 L109.50,218.50 L109.50,218.50 L108.74,219.44 L107.98,219.87 L107.22,220.18 L106.46,220.42 L105.70,220.61 L104.94,220.76 L104.18,220.88 L103.42,220.97 L102.66,221.05 L101.90,221.11 L101.14,221.16 L100.38,221.19 L99.61,221.21 L98.85,221.23 L98.09,221.24 L97.33,221.25 L96.57,221.25 L95.81,221.24 L95.05,221.24 L94.29,221.23 L93.53,221.22 L92.77,221.22 L92.01,221.21 L91.25,221.20 L90.49,221.19 L89.73,221.18 L88.97,221.17 L88.21,221.17 L87.45,221.16 L86.69,221.14 L85.93,221.13 L85.17,221.11 L84.41,221.09 L83.65,221.06 L82.89,221.03 L82.12,220.99 L81.36,220.94 L80.60,220.88 L79.84,220.80 L79.08,220.71 L78.32,220.60 L77.56,220.46 L76.80,220.29 L76.04,220.09 L75.28,219.83 L74.52,219.51 L73.76,219.06 L73.00,218.10Z" fill="#000" opacity="1" filter="url(#bl)"/>
</g>
<rect x="36.4" y="207.6" width="75.0" height="20.200000000000017" fill="none" stroke="#1c1c1c" stroke-width="1.3"/>
<clipPath id="c36_230"><rect x="36.4" y="230.8" width="75.0" height="20.599999999999994"/></clipPath>
<rect x="36.4" y="230.8" width="75.0" height="20.599999999999994" fill="#f1f1f1"/>
<g clip-path="url(#c36_230)">
<path d="M42.50,240.60 L43.10,240.18 L43.71,239.98 L44.31,239.82 L44.92,239.70 L45.52,239.59 L46.12,239.49 L46.73,239.41 L47.33,239.34 L47.94,239.28 L48.54,239.22 L49.15,239.17 L49.75,239.13 L50.35,239.10 L50.96,239.06 L51.56,239.04 L52.17,239.01 L52.77,239.00 L53.38,238.98 L53.98,238.97 L54.58,238.96 L55.19,238.96 L55.79,238.95 L56.40,238.95 L57.00,238.95 L57.60,238.95 L58.21,238.95 L58.81,238.96 L59.42,238.96 L60.02,238.97 L60.62,238.98 L61.23,239.00 L61.83,239.01 L62.44,239.04 L63.04,239.06 L63.65,239.10 L64.25,239.13 L64.85,239.17 L65.46,239.22 L66.06,239.28 L66.67,239.34 L67.27,239.41 L67.88,239.49 L68.48,239.59 L69.08,239.70 L69.69,239.82 L70.29,239.98 L70.90,240.18 L71.50,240.60 L71.50,240.60 L70.90,241.02 L70.29,241.22 L69.69,241.38 L69.08,241.50 L68.48,241.61 L67.88,241.71 L67.27,241.79 L66.67,241.86 L66.06,241.92 L65.46,241.98 L64.85,242.03 L64.25,242.07 L63.65,242.10 L63.04,242.14 L62.44,242.16 L61.83,242.19 L61.23,242.20 L60.62,242.22 L60.02,242.23 L59.42,242.24 L58.81,242.24 L58.21,242.25 L57.60,242.25 L57.00,242.25 L56.40,242.25 L55.79,242.25 L55.19,242.24 L54.58,242.24 L53.98,242.23 L53.38,242.22 L52.77,242.20 L52.17,242.19 L51.56,242.16 L50.96,242.14 L50.35,242.10 L49.75,242.07 L49.15,242.03 L48.54,241.98 L47.94,241.92 L47.33,241.86 L46.73,241.79 L46.12,241.71 L45.52,241.61 L44.92,241.50 L44.31,241.38 L43.71,241.22 L43.10,241.02 L42.50,240.60Z" fill="#222" opacity="0.24" filter="url(#bh)"/>
<path d="M43.00,240.40 L43.58,240.09 L44.17,239.94 L44.75,239.83 L45.33,239.75 L45.92,239.67 L46.50,239.61 L47.08,239.55 L47.67,239.51 L48.25,239.47 L48.83,239.44 L49.42,239.41 L50.00,239.38 L50.58,239.36 L51.17,239.35 L51.75,239.34 L52.33,239.32 L52.92,239.32 L53.50,239.31 L54.08,239.31 L54.67,239.30 L55.25,239.30 L55.83,239.30 L56.42,239.30 L57.00,239.30 L57.58,239.30 L58.17,239.30 L58.75,239.30 L59.33,239.30 L59.92,239.31 L60.50,239.31 L61.08,239.32 L61.67,239.32 L62.25,239.34 L62.83,239.35 L63.42,239.36 L64.00,239.38 L64.58,239.41 L65.17,239.44 L65.75,239.47 L66.33,239.51 L66.92,239.55 L67.50,239.61 L68.08,239.67 L68.67,239.75 L69.25,239.83 L69.83,239.94 L70.42,240.09 L71.00,240.40 L71.00,240.40 L70.42,240.71 L69.83,240.86 L69.25,240.97 L68.67,241.05 L68.08,241.13 L67.50,241.19 L66.92,241.25 L66.33,241.29 L65.75,241.33 L65.17,241.36 L64.58,241.39 L64.00,241.42 L63.42,241.44 L62.83,241.45 L62.25,241.46 L61.67,241.48 L61.08,241.48 L60.50,241.49 L59.92,241.49 L59.33,241.50 L58.75,241.50 L58.17,241.50 L57.58,241.50 L57.00,241.50 L56.42,241.50 L55.83,241.50 L55.25,241.50 L54.67,241.50 L54.08,241.49 L53.50,241.49 L52.92,241.48 L52.33,241.48 L51.75,241.46 L51.17,241.45 L50.58,241.44 L50.00,241.42 L49.42,241.39 L48.83,241.36 L48.25,241.33 L47.67,241.29 L47.08,241.25 L46.50,241.19 L45.92,241.13 L45.33,241.05 L44.75,240.97 L44.17,240.86 L43.58,240.71 L43.00,240.40Z" fill="#222" opacity="0.6" filter="url(#bl)"/>
<path d="M48.50,240.60 L48.79,240.22 L49.08,240.04 L49.38,239.90 L49.67,239.78 L49.96,239.68 L50.25,239.60 L50.54,239.52 L50.83,239.46 L51.12,239.40 L51.42,239.35 L51.71,239.30 L52.00,239.27 L52.29,239.23 L52.58,239.20 L52.88,239.18 L53.17,239.16 L53.46,239.14 L53.75,239.13 L54.04,239.12 L54.33,239.11 L54.62,239.10 L54.92,239.10 L55.21,239.10 L55.50,239.10 L55.79,239.10 L56.08,239.10 L56.38,239.10 L56.67,239.11 L56.96,239.12 L57.25,239.13 L57.54,239.14 L57.83,239.16 L58.12,239.18 L58.42,239.20 L58.71,239.23 L59.00,239.27 L59.29,239.30 L59.58,239.35 L59.88,239.40 L60.17,239.46 L60.46,239.52 L60.75,239.60 L61.04,239.68 L61.33,239.78 L61.62,239.90 L61.92,240.04 L62.21,240.22 L62.50,240.60 L62.50,240.60 L62.21,240.98 L61.92,241.16 L61.62,241.30 L61.33,241.42 L61.04,241.52 L60.75,241.60 L60.46,241.68 L60.17,241.74 L59.88,241.80 L59.58,241.85 L59.29,241.90 L59.00,241.93 L58.71,241.97 L58.42,242.00 L58.12,242.02 L57.83,242.04 L57.54,242.06 L57.25,242.07 L56.96,242.08 L56.67,242.09 L56.38,242.10 L56.08,242.10 L55.79,242.10 L55.50,242.10 L55.21,242.10 L54.92,242.10 L54.62,242.10 L54.33,242.09 L54.04,242.08 L53.75,242.07 L53.46,242.06 L53.17,242.04 L52.88,242.02 L52.58,242.00 L52.29,241.97 L52.00,241.93 L51.71,241.90 L51.42,241.85 L51.12,241.80 L50.83,241.74 L50.54,241.68 L50.25,241.60 L49.96,241.52 L49.67,241.42 L49.38,241.30 L49.08,241.16 L48.79,240.98 L48.50,240.60Z" fill="#000" opacity="0.13999999999999999" filter="url(#bh)"/>
<path d="M49.00,240.40 L49.27,240.12 L49.54,239.99 L49.81,239.89 L50.08,239.80 L50.35,239.74 L50.62,239.68 L50.90,239.63 L51.17,239.59 L51.44,239.55 L51.71,239.52 L51.98,239.50 L52.25,239.48 L52.52,239.46 L52.79,239.44 L53.06,239.43 L53.33,239.42 L53.60,239.41 L53.88,239.41 L54.15,239.41 L54.42,239.40 L54.69,239.40 L54.96,239.40 L55.23,239.40 L55.50,239.40 L55.77,239.40 L56.04,239.40 L56.31,239.40 L56.58,239.40 L56.85,239.41 L57.12,239.41 L57.40,239.41 L57.67,239.42 L57.94,239.43 L58.21,239.44 L58.48,239.46 L58.75,239.48 L59.02,239.50 L59.29,239.52 L59.56,239.55 L59.83,239.59 L60.10,239.63 L60.38,239.68 L60.65,239.74 L60.92,239.80 L61.19,239.89 L61.46,239.99 L61.73,240.12 L62.00,240.40 L62.00,240.40 L61.73,240.68 L61.46,240.81 L61.19,240.91 L60.92,241.00 L60.65,241.06 L60.38,241.12 L60.10,241.17 L59.83,241.21 L59.56,241.25 L59.29,241.28 L59.02,241.30 L58.75,241.32 L58.48,241.34 L58.21,241.36 L57.94,241.37 L57.67,241.38 L57.40,241.39 L57.12,241.39 L56.85,241.39 L56.58,241.40 L56.31,241.40 L56.04,241.40 L55.77,241.40 L55.50,241.40 L55.23,241.40 L54.96,241.40 L54.69,241.40 L54.42,241.40 L54.15,241.39 L53.88,241.39 L53.60,241.39 L53.33,241.38 L53.06,241.37 L52.79,241.36 L52.52,241.34 L52.25,241.32 L51.98,241.30 L51.71,241.28 L51.44,241.25 L51.17,241.21 L50.90,241.17 L50.62,241.12 L50.35,241.06 L50.08,241.00 L49.81,240.91 L49.54,240.81 L49.27,240.68 L49.00,240.40Z" fill="#000" opacity="0.7" filter="url(#bl)"/>
<path d="M79.00,242.10 L79.58,241.29 L80.17,240.89 L80.75,240.59 L81.33,240.34 L81.92,240.12 L82.50,239.94 L83.08,239.78 L83.67,239.64 L84.25,239.52 L84.83,239.41 L85.42,239.31 L86.00,239.23 L86.58,239.16 L87.17,239.10 L87.75,239.04 L88.33,239.00 L88.92,238.96 L89.50,238.94 L90.08,238.91 L90.67,238.90 L91.25,238.89 L91.83,238.88 L92.42,238.88 L93.00,238.88 L93.58,238.88 L94.17,238.88 L94.75,238.89 L95.33,238.90 L95.92,238.91 L96.50,238.94 L97.08,238.96 L97.67,239.00 L98.25,239.04 L98.83,239.10 L99.42,239.16 L100.00,239.23 L100.58,239.31 L101.17,239.41 L101.75,239.52 L102.33,239.64 L102.92,239.78 L103.50,239.94 L104.08,240.12 L104.67,240.34 L105.25,240.59 L105.83,240.89 L106.42,241.29 L107.00,242.10 L107.00,242.10 L106.42,242.91 L105.83,243.31 L105.25,243.61 L104.67,243.86 L104.08,244.08 L103.50,244.26 L102.92,244.42 L102.33,244.56 L101.75,244.68 L101.17,244.79 L100.58,244.89 L100.00,244.97 L99.42,245.04 L98.83,245.10 L98.25,245.16 L97.67,245.20 L97.08,245.24 L96.50,245.26 L95.92,245.29 L95.33,245.30 L94.75,245.31 L94.17,245.32 L93.58,245.32 L93.00,245.32 L92.42,245.32 L91.83,245.32 L91.25,245.31 L90.67,245.30 L90.08,245.29 L89.50,245.26 L88.92,245.24 L88.33,245.20 L87.75,245.16 L87.17,245.10 L86.58,245.04 L86.00,244.97 L85.42,244.89 L84.83,244.79 L84.25,244.68 L83.67,244.56 L83.08,244.42 L82.50,244.26 L81.92,244.08 L81.33,243.86 L80.75,243.61 L80.17,243.31 L79.58,242.91 L79.00,242.10Z" fill="#000" opacity="0.4" filter="url(#bh)"/>
<path d="M79.50,241.20 L80.06,240.49 L80.62,240.17 L81.19,239.93 L81.75,239.75 L82.31,239.61 L82.88,239.49 L83.44,239.39 L84.00,239.32 L84.56,239.25 L85.12,239.20 L85.69,239.16 L86.25,239.13 L86.81,239.11 L87.38,239.09 L87.94,239.08 L88.50,239.07 L89.06,239.06 L89.62,239.06 L90.19,239.05 L90.75,239.05 L91.31,239.05 L91.88,239.05 L92.44,239.05 L93.00,239.05 L93.56,239.05 L94.12,239.05 L94.69,239.05 L95.25,239.05 L95.81,239.05 L96.38,239.06 L96.94,239.06 L97.50,239.07 L98.06,239.08 L98.62,239.09 L99.19,239.11 L99.75,239.13 L100.31,239.16 L100.88,239.20 L101.44,239.25 L102.00,239.32 L102.56,239.39 L103.12,239.49 L103.69,239.61 L104.25,239.75 L104.81,239.93 L105.38,240.17 L105.94,240.49 L106.50,241.20 L106.50,241.20 L105.94,241.91 L105.38,242.23 L104.81,242.47 L104.25,242.65 L103.69,242.79 L103.12,242.91 L102.56,243.01 L102.00,243.08 L101.44,243.15 L100.88,243.20 L100.31,243.24 L99.75,243.27 L99.19,243.29 L98.62,243.31 L98.06,243.32 L97.50,243.33 L96.94,243.34 L96.38,243.34 L95.81,243.35 L95.25,243.35 L94.69,243.35 L94.12,243.35 L93.56,243.35 L93.00,243.35 L92.44,243.35 L91.88,243.35 L91.31,243.35 L90.75,243.35 L90.19,243.35 L89.62,243.34 L89.06,243.34 L88.50,243.33 L87.94,243.32 L87.38,243.31 L86.81,243.29 L86.25,243.27 L85.69,243.24 L85.12,243.20 L84.56,243.15 L84.00,243.08 L83.44,243.01 L82.88,242.91 L82.31,242.79 L81.75,242.65 L81.19,242.47 L80.62,242.23 L80.06,241.91 L79.50,241.20Z" fill="#000" opacity="1" filter="url(#bl)"/>
</g>
<rect x="36.4" y="230.8" width="75.0" height="20.599999999999994" fill="none" stroke="#1c1c1c" stroke-width="1.3"/>
<clipPath id="c36_253"><rect x="36.4" y="253.8" width="75.0" height="20.80000000000001"/></clipPath>
<rect x="36.4" y="253.8" width="75.0" height="20.80000000000001" fill="#f1f1f1"/>
<g clip-path="url(#c36_253)">
<path d="M39.30,265.30 L40.04,264.56 L40.79,264.20 L41.53,263.93 L42.27,263.70 L43.02,263.51 L43.76,263.34 L44.51,263.20 L45.25,263.07 L45.99,262.96 L46.74,262.86 L47.48,262.77 L48.22,262.70 L48.97,262.63 L49.71,262.58 L50.46,262.53 L51.20,262.49 L51.94,262.46 L52.69,262.43 L53.43,262.41 L54.17,262.39 L54.92,262.38 L55.66,262.38 L56.41,262.38 L57.15,262.38 L57.89,262.38 L58.64,262.38 L59.38,262.38 L60.12,262.39 L60.87,262.41 L61.61,262.43 L62.36,262.46 L63.10,262.49 L63.84,262.53 L64.59,262.58 L65.33,262.63 L66.08,262.70 L66.82,262.77 L67.56,262.86 L68.31,262.96 L69.05,263.07 L69.79,263.20 L70.54,263.34 L71.28,263.51 L72.03,263.70 L72.77,263.93 L73.51,264.20 L74.26,264.56 L75.00,265.30 L75.00,265.30 L74.26,266.04 L73.51,266.40 L72.77,266.67 L72.03,266.90 L71.28,267.09 L70.54,267.26 L69.79,267.40 L69.05,267.53 L68.31,267.64 L67.56,267.74 L66.82,267.83 L66.08,267.90 L65.33,267.97 L64.59,268.02 L63.84,268.07 L63.10,268.11 L62.36,268.14 L61.61,268.17 L60.87,268.19 L60.12,268.21 L59.38,268.22 L58.64,268.22 L57.89,268.22 L57.15,268.23 L56.41,268.22 L55.66,268.22 L54.92,268.22 L54.17,268.21 L53.43,268.19 L52.69,268.17 L51.94,268.14 L51.20,268.11 L50.46,268.07 L49.71,268.02 L48.97,267.97 L48.22,267.90 L47.48,267.83 L46.74,267.74 L45.99,267.64 L45.25,267.53 L44.51,267.40 L43.76,267.26 L43.02,267.09 L42.27,266.90 L41.53,266.67 L40.79,266.40 L40.04,266.04 L39.30,265.30Z" fill="#000" opacity="0.3" filter="url(#bh)"/>
<path d="M39.80,265.10 L40.52,264.30 L41.25,263.96 L41.97,263.74 L42.69,263.57 L43.41,263.45 L44.14,263.37 L44.86,263.30 L45.58,263.25 L46.31,263.22 L47.03,263.20 L47.75,263.18 L48.47,263.17 L49.20,263.16 L49.92,263.16 L50.64,263.15 L51.37,263.15 L52.09,263.15 L52.81,263.15 L53.54,263.15 L54.26,263.15 L54.98,263.15 L55.70,263.15 L56.43,263.15 L57.15,263.15 L57.87,263.15 L58.60,263.15 L59.32,263.15 L60.04,263.15 L60.76,263.15 L61.49,263.15 L62.21,263.15 L62.93,263.15 L63.66,263.15 L64.38,263.16 L65.10,263.16 L65.83,263.17 L66.55,263.18 L67.27,263.20 L67.99,263.22 L68.72,263.25 L69.44,263.30 L70.16,263.37 L70.89,263.45 L71.61,263.57 L72.33,263.74 L73.05,263.96 L73.78,264.30 L74.50,265.10 L74.50,265.10 L73.78,265.90 L73.05,266.24 L72.33,266.46 L71.61,266.63 L70.89,266.75 L70.16,266.83 L69.44,266.90 L68.72,266.95 L67.99,266.98 L67.27,267.00 L66.55,267.02 L65.83,267.03 L65.10,267.04 L64.38,267.04 L63.66,267.05 L62.93,267.05 L62.21,267.05 L61.49,267.05 L60.76,267.05 L60.04,267.05 L59.32,267.05 L58.60,267.05 L57.87,267.05 L57.15,267.05 L56.43,267.05 L55.70,267.05 L54.98,267.05 L54.26,267.05 L53.54,267.05 L52.81,267.05 L52.09,267.05 L51.37,267.05 L50.64,267.05 L49.92,267.04 L49.20,267.04 L48.47,267.03 L47.75,267.02 L47.03,267.00 L46.31,266.98 L45.58,266.95 L44.86,266.90 L44.14,266.83 L43.41,266.75 L42.69,266.63 L41.97,266.46 L41.25,266.24 L40.52,265.90 L39.80,265.10Z" fill="#000" opacity="1" filter="url(#bl)"/>
<path d="M76.00,265.30 L76.68,264.52 L77.35,264.15 L78.03,263.86 L78.71,263.62 L79.39,263.42 L80.06,263.24 L80.74,263.09 L81.42,262.95 L82.09,262.84 L82.77,262.73 L83.45,262.64 L84.12,262.56 L84.80,262.50 L85.48,262.44 L86.16,262.39 L86.83,262.34 L87.51,262.31 L88.19,262.28 L88.86,262.26 L89.54,262.25 L90.22,262.24 L90.90,262.23 L91.57,262.23 L92.25,262.23 L92.93,262.23 L93.60,262.23 L94.28,262.24 L94.96,262.25 L95.64,262.26 L96.31,262.28 L96.99,262.31 L97.67,262.34 L98.34,262.39 L99.02,262.44 L99.70,262.50 L100.38,262.56 L101.05,262.64 L101.73,262.73 L102.41,262.84 L103.08,262.95 L103.76,263.09 L104.44,263.24 L105.11,263.42 L105.79,263.62 L106.47,263.86 L107.15,264.15 L107.82,264.52 L108.50,265.30 L108.50,265.30 L107.82,266.08 L107.15,266.45 L106.47,266.74 L105.79,266.98 L105.11,267.18 L104.44,267.36 L103.76,267.51 L103.08,267.65 L102.41,267.76 L101.73,267.87 L101.05,267.96 L100.38,268.04 L99.70,268.10 L99.02,268.16 L98.34,268.21 L97.67,268.26 L96.99,268.29 L96.31,268.32 L95.64,268.34 L94.96,268.35 L94.28,268.36 L93.60,268.37 L92.93,268.37 L92.25,268.38 L91.57,268.37 L90.90,268.37 L90.22,268.36 L89.54,268.35 L88.86,268.34 L88.19,268.32 L87.51,268.29 L86.83,268.26 L86.16,268.21 L85.48,268.16 L84.80,268.10 L84.12,268.04 L83.45,267.96 L82.77,267.87 L82.09,267.76 L81.42,267.65 L80.74,267.51 L80.06,267.36 L79.39,267.18 L78.71,266.98 L78.03,266.74 L77.35,266.45 L76.68,266.08 L76.00,265.30Z" fill="#000" opacity="0.3" filter="url(#bh)"/>
<path d="M76.50,265.10 L77.16,264.26 L77.81,263.91 L78.47,263.67 L79.12,263.49 L79.78,263.37 L80.44,263.28 L81.09,263.21 L81.75,263.16 L82.41,263.12 L83.06,263.10 L83.72,263.08 L84.38,263.07 L85.03,263.06 L85.69,263.06 L86.34,263.05 L87.00,263.05 L87.66,263.05 L88.31,263.05 L88.97,263.05 L89.62,263.05 L90.28,263.05 L90.94,263.05 L91.59,263.05 L92.25,263.05 L92.91,263.05 L93.56,263.05 L94.22,263.05 L94.88,263.05 L95.53,263.05 L96.19,263.05 L96.84,263.05 L97.50,263.05 L98.16,263.05 L98.81,263.06 L99.47,263.06 L100.12,263.07 L100.78,263.08 L101.44,263.10 L102.09,263.12 L102.75,263.16 L103.41,263.21 L104.06,263.28 L104.72,263.37 L105.38,263.49 L106.03,263.67 L106.69,263.91 L107.34,264.26 L108.00,265.10 L108.00,265.10 L107.34,265.94 L106.69,266.29 L106.03,266.53 L105.38,266.71 L104.72,266.83 L104.06,266.92 L103.41,266.99 L102.75,267.04 L102.09,267.08 L101.44,267.10 L100.78,267.12 L100.12,267.13 L99.47,267.14 L98.81,267.14 L98.16,267.15 L97.50,267.15 L96.84,267.15 L96.19,267.15 L95.53,267.15 L94.88,267.15 L94.22,267.15 L93.56,267.15 L92.91,267.15 L92.25,267.15 L91.59,267.15 L90.94,267.15 L90.28,267.15 L89.62,267.15 L88.97,267.15 L88.31,267.15 L87.66,267.15 L87.00,267.15 L86.34,267.15 L85.69,267.14 L85.03,267.14 L84.38,267.13 L83.72,267.12 L83.06,267.10 L82.41,267.08 L81.75,267.04 L81.09,266.99 L80.44,266.92 L79.78,266.83 L79.12,266.71 L78.47,266.53 L77.81,266.29 L77.16,265.94 L76.50,265.10Z" fill="#000" opacity="1" filter="url(#bl)"/>
</g>
<rect x="36.4" y="253.8" width="75.0" height="20.80000000000001" fill="none" stroke="#1c1c1c" stroke-width="1.3"/>
<text font-size="9.988" font-weight="bold" text-anchor="end" transform="translate(30 197.40) scale(0.97 0.985)" stroke="#000" stroke-width="0.22">118 kD</text>
<text font-size="9.988" font-weight="bold" text-anchor="end" transform="translate(30 220.20) scale(0.97 0.985)" stroke="#000" stroke-width="0.22">20 kD</text>
<text font-size="9.988" font-weight="bold" text-anchor="end" transform="translate(30 245.40) scale(0.97 0.985)" stroke="#000" stroke-width="0.22">31 kD</text>
<text font-size="9.988" font-weight="bold" text-anchor="end" transform="translate(30 268.00) scale(0.97 0.985)" stroke="#000" stroke-width="0.22">42 kD</text>
<text font-size="9.988" font-weight="bold" text-anchor="start" transform="translate(117.5 199.20) scale(0.97 0.985)" stroke="#000" stroke-width="0.22">NLRP3</text>
<text font-size="9.988" font-weight="bold" text-anchor="start" transform="translate(117.5 221.00) scale(0.97 0.985)" stroke="#000" stroke-width="0.22">Caspase-1</text>
<text font-size="9.988" font-weight="bold" text-anchor="start" transform="translate(117.5 246.00) scale(0.97 0.985)" stroke="#000" stroke-width="0.22">GSDMD-N</text>
<text font-size="9.988" font-weight="bold" text-anchor="start" transform="translate(117.5 267.70) scale(0.97 0.985)" stroke="#000" stroke-width="0.22">β-actin</text>
<line x1="216" y1="161.375" x2="216" y2="270.325" stroke="#000" stroke-width="1.25"/>
<line x1="211.3" y1="269.7" x2="216" y2="269.7" stroke="#000" stroke-width="1.25"/>
<text font-size="8.5" font-weight="bold" text-anchor="end" transform="translate(210.3 272.80) scale(0.97 0.985)" stroke="#000" stroke-width="0.22">0</text>
<line x1="211.3" y1="242.75" x2="216" y2="242.75" stroke="#000" stroke-width="1.25"/>
<text font-size="8.5" font-weight="bold" text-anchor="end" transform="translate(210.3 245.85) scale(0.97 0.985)" stroke="#000" stroke-width="0.22">1</text>
<line x1="211.3" y1="215.79999999999998" x2="216" y2="215.79999999999998" stroke="#000" stroke-width="1.25"/>
<text font-size="8.5" font-weight="bold" text-anchor="end" transform="translate(210.3 218.90) scale(0.97 0.985)" stroke="#000" stroke-width="0.22">2</text>
<line x1="211.3" y1="188.85" x2="216" y2="188.85" stroke="#000" stroke-width="1.25"/>
<text font-size="8.5" font-weight="bold" text-anchor="end" transform="translate(210.3 191.95) scale(0.97 0.985)" stroke="#000" stroke-width="0.22">3</text>
<line x1="211.3" y1="161.89999999999998" x2="216" y2="161.89999999999998" stroke="#000" stroke-width="1.25"/>
<text font-size="8.5" font-weight="bold" text-anchor="end" transform="translate(210.3 165.00) scale(0.97 0.985)" stroke="#000" stroke-width="0.22">4</text>
<line x1="229.9" y1="240.3" x2="229.9" y2="242.7" stroke="#000" stroke-width="1.25"/>
<line x1="226.6" y1="240.3" x2="233.20000000000002" y2="240.3" stroke="#000" stroke-width="1.25"/>
<rect x="223.0" y="242.7" width="13.800000000000011" height="27.0" fill="#000"/>
<line x1="251.05" y1="191.2" x2="251.05" y2="198" stroke="#000" stroke-width="1.25"/>
<line x1="247.65" y1="191.2" x2="254.45000000000002" y2="191.2" stroke="#000" stroke-width="1.25"/>
<rect x="245.20000000000002" y="198.8" width="11.699999999999983" height="70.60" fill="#a0a0a0" stroke="#000" stroke-width="1.8"/>
<text font-size="9.881" font-weight="normal" text-anchor="middle" transform="translate(251.05 190.10) scale(0.97 0.985)" stroke="#000" stroke-width="0.08">***</text>
<line x1="286.1" y1="240.7" x2="286.1" y2="242.7" stroke="#000" stroke-width="1.25"/>
<line x1="282.8" y1="240.7" x2="289.40000000000003" y2="240.7" stroke="#000" stroke-width="1.25"/>
<rect x="279.20000000000005" y="242.7" width="13.799999999999955" height="27.0" fill="#000"/>
<line x1="307.25" y1="183.3" x2="307.25" y2="190.2" stroke="#000" stroke-width="1.25"/>
<line x1="303.85" y1="183.3" x2="310.65" y2="183.3" stroke="#000" stroke-width="1.25"/>
<rect x="301.40000000000003" y="191.0" width="11.700000000000012" height="78.40" fill="#a0a0a0" stroke="#000" stroke-width="1.8"/>
<text font-size="9.881" font-weight="normal" text-anchor="middle" transform="translate(307.25 182.00) scale(0.97 0.985)" stroke="#000" stroke-width="0.08">***</text>
<line x1="342.8" y1="240.3" x2="342.8" y2="242.7" stroke="#000" stroke-width="1.25"/>
<line x1="339.5" y1="240.3" x2="346.1" y2="240.3" stroke="#000" stroke-width="1.25"/>
<rect x="335.90000000000003" y="242.7" width="13.799999999999955" height="27.0" fill="#000"/>
<line x1="363.95000000000005" y1="205.6" x2="363.95000000000005" y2="213.2" stroke="#000" stroke-width="1.25"/>
<line x1="360.55000000000007" y1="205.6" x2="367.35" y2="205.6" stroke="#000" stroke-width="1.25"/>
<rect x="358.1" y="214.0" width="11.700000000000012" height="55.40" fill="#a0a0a0" stroke="#000" stroke-width="1.8"/>
<text font-size="9.881" font-weight="normal" text-anchor="middle" transform="translate(363.95000000000005 204.40) scale(0.97 0.985)" stroke="#000" stroke-width="0.08">**</text>
<line x1="216" y1="269.7" x2="378.3" y2="269.7" stroke="#000" stroke-width="1.25"/>
<line x1="240.7" y1="269.7" x2="240.7" y2="274.3" stroke="#000" stroke-width="1.25"/>
<text font-size="8.5" font-weight="bold" text-anchor="middle" transform="translate(240.7 282.80) scale(0.97 0.985)" stroke="#000" stroke-width="0.22">NLRP3</text>
<line x1="297" y1="269.7" x2="297" y2="274.3" stroke="#000" stroke-width="1.25"/>
<text font-size="8.5" font-weight="bold" text-anchor="middle" transform="translate(297 282.80) scale(0.97 0.985)" stroke="#000" stroke-width="0.22">Caspase-1</text>
<line x1="353.3" y1="269.7" x2="353.3" y2="274.3" stroke="#000" stroke-width="1.25"/>
<text font-size="8.5" font-weight="bold" text-anchor="middle" transform="translate(353.3 282.80) scale(0.97 0.985)" stroke="#000" stroke-width="0.22">GADMD-N</text>
<text x="189.61" y="215.5" font-size="8.7" font-weight="bold" text-anchor="middle" stroke="#000" stroke-width="0.2" transform="rotate(-90 189.61 215.5)">Relative protein</text>
<text x="200.41000000000003" y="215.8" font-size="8.7" font-weight="bold" text-anchor="middle" stroke="#000" stroke-width="0.2" transform="rotate(-90 200.41000000000003 215.8)">expressions</text>
<rect x="388.20000000000005" y="159.60000000000002" width="11.6" height="5.4" fill="#000"/>
<text font-size="9.031" font-weight="normal" text-anchor="start" transform="translate(406.5 164.90) scale(0.97 0.985)" stroke="#000" stroke-width="0.08">Control</text>
<rect x="389.15000000000003" y="174.9" width="9.9" height="4.3" fill="#a0a0a0" stroke="#000" stroke-width="1.9"/>
<text font-size="9.031" font-weight="normal" text-anchor="start" transform="translate(406.5 179.40) scale(0.97 0.985)" stroke="#000" stroke-width="0.08">COPD</text>
<line x1="521.8" y1="158.675" x2="521.8" y2="267.925" stroke="#000" stroke-width="1.25"/>
<line x1="517.0999999999999" y1="267.3" x2="521.8" y2="267.3" stroke="#000" stroke-width="1.25"/>
<text font-size="8.5" font-weight="bold" text-anchor="end" transform="translate(516.3 269.90) scale(0.97 0.985)" stroke="#000" stroke-width="0.22">0</text>
<line x1="517.0999999999999" y1="231.3" x2="521.8" y2="231.3" stroke="#000" stroke-width="1.25"/>
<text font-size="8.5" font-weight="bold" text-anchor="end" transform="translate(516.3 233.90) scale(0.97 0.985)" stroke="#000" stroke-width="0.22">50</text>
<line x1="517.0999999999999" y1="195.3" x2="521.8" y2="195.3" stroke="#000" stroke-width="1.25"/>
<text font-size="8.5" font-weight="bold" text-anchor="end" transform="translate(516.3 197.90) scale(0.97 0.985)" stroke="#000" stroke-width="0.22">100</text>
<line x1="517.0999999999999" y1="159.3" x2="521.8" y2="159.3" stroke="#000" stroke-width="1.25"/>
<text font-size="8.5" font-weight="bold" text-anchor="end" transform="translate(516.3 161.90) scale(0.97 0.985)" stroke="#000" stroke-width="0.22">150</text>
<line x1="543.5" y1="256.6" x2="543.5" y2="257.3" stroke="#000" stroke-width="1.25"/>
<line x1="538.25" y1="256.6" x2="548.75" y2="256.6" stroke="#000" stroke-width="1.25"/>
<rect x="532.7" y="257.3" width="21.59999999999991" height="10.0" fill="#000"/>
<line x1="576.25" y1="218.1" x2="576.25" y2="222.3" stroke="#000" stroke-width="1.25"/>
<line x1="570.9" y1="218.1" x2="581.6" y2="218.1" stroke="#000" stroke-width="1.25"/>
<rect x="566.5" y="223.10000000000002" width="19.499999999999908" height="43.90" fill="#a0a0a0" stroke="#000" stroke-width="1.8"/>
<text font-size="8.5" font-weight="normal" text-anchor="middle" transform="translate(576.25 217.10) scale(0.97 0.985)" stroke="#000" stroke-width="0.08">***</text>
<line x1="630.0" y1="241.6" x2="630.0" y2="244" stroke="#000" stroke-width="1.25"/>
<line x1="624.9" y1="241.6" x2="635.1" y2="241.6" stroke="#000" stroke-width="1.25"/>
<rect x="619.3" y="244" width="21.40000000000009" height="23.30000000000001" fill="#000"/>
<line x1="662.5" y1="187.9" x2="662.5" y2="194" stroke="#000" stroke-width="1.25"/>
<line x1="656.85" y1="187.9" x2="668.15" y2="187.9" stroke="#000" stroke-width="1.25"/>
<rect x="652.5999999999999" y="194.8" width="19.80000000000009" height="72.20" fill="#a0a0a0" stroke="#000" stroke-width="1.8"/>
<text font-size="8.5" font-weight="normal" text-anchor="middle" transform="translate(662.5 187.10) scale(0.97 0.985)" stroke="#000" stroke-width="0.08">***</text>
<line x1="521.8" y1="267.3" x2="686" y2="267.3" stroke="#000" stroke-width="1.25"/>
<line x1="560" y1="267.3" x2="560" y2="271.90000000000003" stroke="#000" stroke-width="1.25"/>
<text font-size="8.5" font-weight="bold" text-anchor="middle" transform="translate(560 280.80) scale(0.97 0.985)" stroke="#000" stroke-width="0.22">IL-1β</text>
<line x1="646.7" y1="267.3" x2="646.7" y2="271.90000000000003" stroke="#000" stroke-width="1.25"/>
<text font-size="8.5" font-weight="bold" text-anchor="middle" transform="translate(646.7 280.80) scale(0.97 0.985)" stroke="#000" stroke-width="0.22">IL-6</text>
<text x="476.07" y="213.2" font-size="8.9" font-weight="bold" text-anchor="middle" stroke="#000" stroke-width="0.2" transform="rotate(-90 476.07 213.2)">IL-1β and IL-6 concentrations</text>
<text x="487.27000000000004" y="211.7" font-size="8.9" font-weight="bold" text-anchor="middle" stroke="#000" stroke-width="0.2" transform="rotate(-90 487.27000000000004 211.7)">in bronchoalveolar lavage</text>
<text x="498.27000000000004" y="212.7" font-size="8.9" font-weight="bold" text-anchor="middle" stroke="#000" stroke-width="0.2" transform="rotate(-90 498.27000000000004 212.7)">fluid (pg/100 μL)</text>
<rect x="537.5" y="159.20000000000002" width="11.4" height="5.4" fill="#000"/>
<text font-size="9.031" font-weight="normal" text-anchor="start" transform="translate(556 164.70) scale(0.97 0.985)" stroke="#000" stroke-width="0.08">Control</text>
<rect x="538.45" y="174.0" width="9.799999999999999" height="4.3" fill="#a0a0a0" stroke="#000" stroke-width="1.9"/>
<text font-size="9.031" font-weight="normal" text-anchor="start" transform="translate(556 178.70) scale(0.97 0.985)" stroke="#000" stroke-width="0.08">COPD</text>
</svg></body></html>
